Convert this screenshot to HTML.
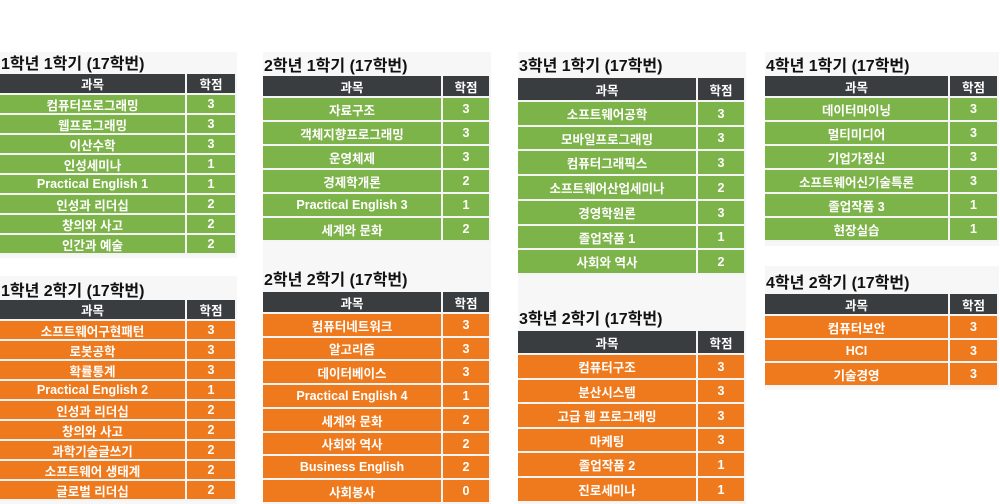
<!DOCTYPE html>
<html><head><meta charset="utf-8">
<style>
body{margin:0;width:1000px;height:504px;background:#fff;overflow:hidden;position:relative;font-family:"Liberation Sans","Noto Sans CJK KR",sans-serif;}
.bg{position:absolute;background:#f7f7f7;}
.title{position:absolute;font-weight:bold;font-size:16px;color:#111;white-space:nowrap;}
.cell{position:absolute;box-sizing:border-box;color:#fff;font-weight:bold;font-size:12.5px;display:flex;align-items:center;justify-content:center;border-right:2px solid #f4f4f4;border-bottom:2px solid #f4f4f4;white-space:nowrap;}
.hd{background:#3a3d40;}
.g{background:#7db449;}
.o{background:#ee7a1d;}
</style></head><body>
<script>
const panels=[
{t:"1학년 1학기 (17학번)",x:0,w:237,cw:50,ty:61,hy:74,hh:21,rh:20,c:"g",bgy:52,bgh:206,
 n:["컴퓨터프로그래밍","웹프로그래밍","이산수학","인성세미나","Practical English 1","인성과 리더십","창의와 사고","인간과 예술"],v:[3,3,3,1,1,2,2,2]},
{t:"1학년 2학기 (17학번)",x:0,w:237,cw:50,ty:288,hy:300,hh:21,rh:20,c:"o",bgy:276,bgh:228,
 n:["소프트웨어구현패턴","로봇공학","확률통계","Practical English 2","인성과 리더십","창의와 사고","과학기술글쓰기","소프트웨어 생태계","글로벌 리더십"],v:[3,3,3,1,2,2,2,2,2]},
{t:"2학년 1학기 (17학번)",x:263,w:228,cw:48,ty:63,hy:76,hh:22,rh:24,c:"g",bgy:52,bgh:214,
 n:["자료구조","객체지향프로그래밍","운영체제","경제학개론","Practical English 3","세계와 문화"],v:[3,3,3,2,1,2]},
{t:"2학년 2학기 (17학번)",x:263,w:228,cw:48,ty:277,hy:292,hh:22,rh:23.7,c:"o",bgy:266,bgh:238,
 n:["컴퓨터네트워크","알고리즘","데이터베이스","Practical English 4","세계와 문화","사회와 역사","Business English","사회봉사"],v:[3,3,3,1,2,2,2,0]},
{t:"3학년 1학기 (17학번)",x:518,w:228,cw:48,ty:63,hy:78,hh:24,rh:24.7,c:"g",bgy:52,bgh:244,
 n:["소프트웨어공학","모바일프로그래밍","컴퓨터그래픽스","소프트웨어산업세미나","경영학원론","졸업작품 1","사회와 역사"],v:[3,3,3,2,3,1,2]},
{t:"3학년 2학기 (17학번)",x:518,w:228,cw:48,ty:316,hy:331,hh:24,rh:24.6,c:"o",bgy:296,bgh:208,
 n:["컴퓨터구조","분산시스템","고급 웹 프로그래밍","마케팅","졸업작품 2","진로세미나"],v:[3,3,3,3,1,1]},
{t:"4학년 1학기 (17학번)",x:765,w:234,cw:49,ty:63,hy:76,hh:22,rh:24,c:"g",bgy:52,bgh:194,
 n:["데이터마이닝","멀티미디어","기업가정신","소프트웨어신기술특론","졸업작품 3","현장실습"],v:[3,3,3,3,1,1]},
{t:"4학년 2학기 (17학번)",x:765,w:234,cw:49,ty:280,hy:294,hh:22,rh:23.5,c:"o",bgy:266,bgh:124,
 n:["컴퓨터보안","HCI","기술경영"],v:[3,3,3]}
];
function mk(cls,x,y,w,h,txt){
 const d=document.createElement('div');d.className=cls;
 d.style.left=x+'px';d.style.top=y+'px';d.style.width=w+'px';d.style.height=h+'px';
 if(txt!==undefined)d.textContent=txt;document.body.appendChild(d);return d;}
panels.forEach((p,pi)=>{
 const bg=mk('bg',p.x,p.bgy,p.w,p.bgh);
 
 
 const t=mk('title',p.x+1,p.ty-11,p.w,20,p.t);
 
 
 const nw=p.w-p.cw;
 const h1=mk('cell hd',p.x,p.hy,nw,p.hh,'과목');
 
 
 const h2=mk('cell hd',p.x+nw,p.hy,p.cw,p.hh,'학점');
 
 
 p.n.forEach((name,i)=>{
  const y=Math.round(p.hy+p.hh+i*p.rh), y2=Math.round(p.hy+p.hh+(i+1)*p.rh);
  const a=mk('cell '+p.c,p.x,y,nw,y2-y,name);
  
  
  const b=mk('cell '+p.c,p.x+nw,y,p.cw,y2-y,String(p.v[i]));
  
  
 });
});
</script>
</body></html>
